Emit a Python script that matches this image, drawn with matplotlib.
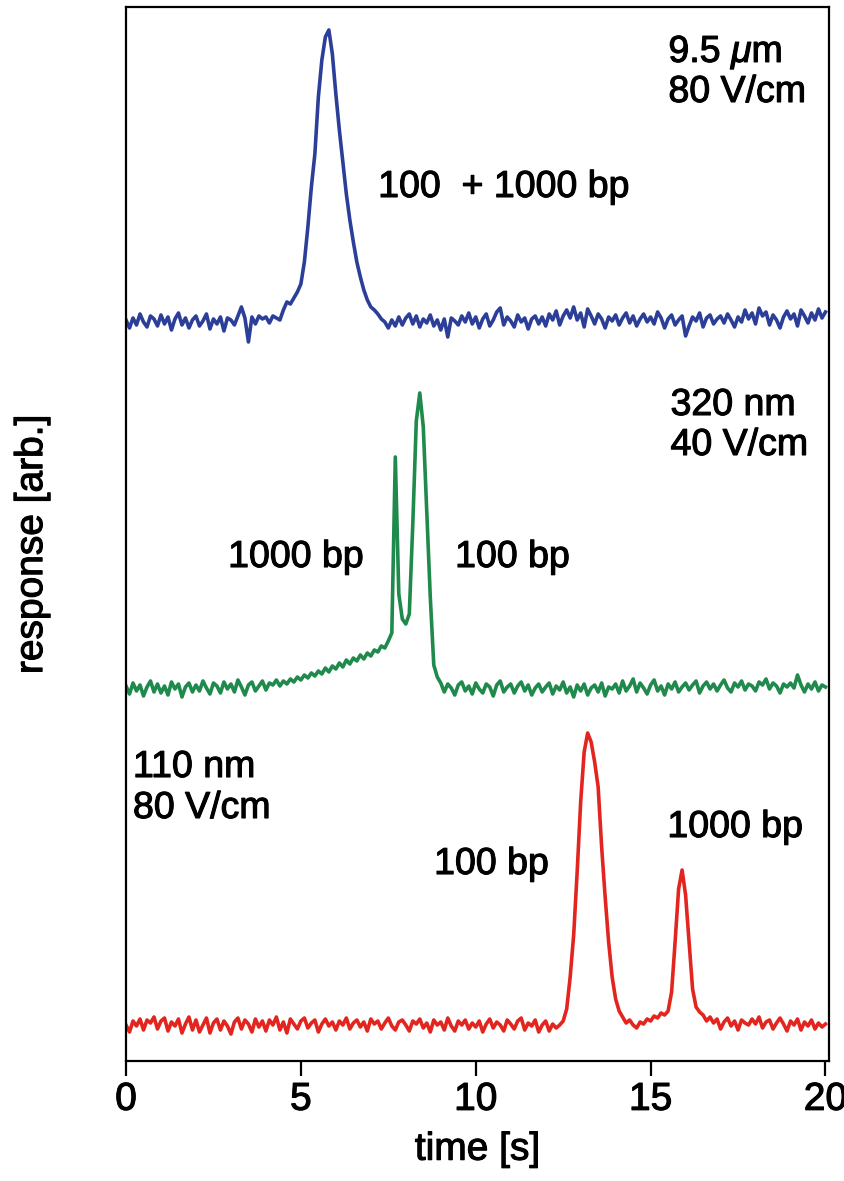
import numpy as np
import matplotlib
matplotlib.use("Agg")
import matplotlib.pyplot as plt
import matplotlib.patheffects as pe

plt.rcParams['font.family'] = ['Liberation Sans', 'DejaVu Sans']
plt.rcParams['mathtext.fontset'] = 'custom'
plt.rcParams['mathtext.rm'] = 'Liberation Sans'
plt.rcParams['mathtext.it'] = 'Liberation Sans:italic'

# sampling grid, 0.1 s steps from 0 to 20 s
time = np.round(np.arange(201) * 0.1, 1)

# detector response (arb.), baseline removed
resp_9um = [
    2, -6, 4, -3, 8, 0, -5, 6, 3, -4,
    7, -2, 5, -8, 3, 9, -3, 4, -6, 2,
    6, -4, 1, 8, -7, 3, -2, 5, -9, 4,
    2, -3, 6, 15, 4, -20, 5, -2, 6, 3,
    5, -1, 6, 4, 2, 12, 20, 18, 24, 30,
    38, 60, 95, 135, 168, 225, 262, 285, 292, 268,
    228, 192, 160, 128, 102, 80, 60, 45, 32, 22,
    15, 12, 8, 3, 0, -6, 2, -4, 5, -3,
    4, 8, -2, 6, -5, 3, -1, 7, -4, 2,
    -8, 3, -15, 4, 1, -3, 6, 0, 9, -2,
    5, -6, 3, 8, -4, 2, 10, 14, -3, 5,
    1, -5, 7, 0, 4, -7, 3, 6, -2, 5,
    -4, 8, 2, 11, -3, 6, 12, 4, 15, 2,
    9, -5, 13, 6, -2, 8, 3, -6, 5, 1,
    7, -3, 4, 9, -1, 6, -4, 3, 8, 0,
    5, -2, 10, 4, -6, 3, 7, -3, 2, 6,
    -14, -4, 5, 1, 9, -5, 4, 7, -2, 3,
    6, -1, 8, 2, -5, 5, 0, 12, 3, 9,
    -2, 14, 6, 10, -3, 7, 2, -6, 5, 11,
    3, 8, -4, 12, 6, -1, 9, 2, 13, 4,
    10,
]

resp_320nm = [
    3, -5, 6, -2, 4, -7, 2, 8, -3, 5,
    -4, 3, -6, 7, 0, 5, -8, 2, 6, -3,
    4, -2, 8, 1, -5, 6, 3, -4, 7, 0,
    5, -3, 9, 2, -6, 4, 7, -2, 3, 8,
    -1, 6, 4, 9, 3, 8, 5, 10, 7, 12,
    9, 14, 11, 16, 13, 18, 15, 21, 17, 23,
    20, 26, 22, 29, 25, 31, 28, 34, 30, 36,
    33, 39, 37, 43, 41, 48, 56, 232, 95, 70,
    65, 75, 165, 268, 296, 262, 178, 92, 24, 12,
    6, -3, 5, 1, -6, 4, 7, -2, 3, -5,
    6, 0, -4, 5, 2, -7, 4, 8, -3, 2,
    5, -4, 3, 7, -2, 4, -6, 1, 5, -3,
    2, 6, -5, 3, -1, 7, -4, 2, -8, 4,
    -2, 5, -6, 1, 4, -3, 6, -7, 2, 0,
    5, -4, 8, -2, 3, 10, -3, 6, 1, -5,
    4, 9, -2, 3, -6, 5, 0, 7, -3, 2,
    6, -1, 4, 8, -4, 3, 7, 0, 5, -2,
    4, 9, 1, -3, 6, 2, 8, -1, 5, 3,
    -2, 7, 4, 10, 0, 6, 3, -4, 5, 2,
    6, 1, 14, 4, -3, 5, 0, 7, -2, 4,
    2,
]

resp_110nm = [
    2, -5, 6, 1, 8, -3, 7, 4, 10, -2,
    6, 9, -4, 5, 1, 8, -6, 3, 10, -3,
    7, -5, 2, 9, -6, 4, 8, -3, 6, 1,
    -7, 5, 9, -2, 7, 3, -5, 8, 0, 6,
    -4, 7, 2, 10, -3, 5, -6, 8, 3, -2,
    6, 9, -1, 4, 7, -5, 3, 8, 1, 5,
    -3, 6, 2, 9, -2, 4, 7, 0, 5, -4,
    8, 3, 6, -2, 4, 9, 1, -3, 5, 7,
    2, -4, 6, 3, 8, -1, 4, -5, 7, 2,
    5, -3, 9, 1, -4, 6, 2, 7, -2, 4,
    0, 6, -5, 3, 8, -1, 5, 2, -4, 7,
    3, -2, 6, 9, -3, 4, 1, 7, -5, 2,
    6, -4, 3, -1, 2, 6, 18, 50, 92, 155,
    225, 275, 294, 285, 265, 240, 180, 130, 85, 50,
    28, 16, 10, 4, 7, 2, -1, 5, 3, 8,
    6, 11, 9, 14, 12, 16, 35, 85, 138, 157,
    132, 85, 38, 20, 15, 12, 6, 10, 4, 8,
    -2, 5, 9, 1, 6, -3, 7, 4, 2, 8,
    3, 10, -1, 5, 7, -2, 4, 9, 3, -4,
    6, 2, 8, -3, 5, 1, 7, -2, 4, 0,
    3,
]

# vertical offsets used to stack the three runs
offsets = [739, 372, 34]
colors = ['#2c3f98', '#1f8a4c', '#e2261f']

fig = plt.figure(figsize=(8.44, 11.81), dpi=100)
ax = fig.add_axes([0.1493, 0.1016, 0.8329, 0.8925])

for vals, off, c in zip([resp_9um, resp_320nm, resp_110nm], offsets, colors):
    ax.plot(time, np.array(vals) + off, color=c, lw=2.6, solid_joinstyle='round')

ax.set_xlim(0, 20.1)
ax.set_ylim(0, 1054)
ax.set_xticks([0, 5, 10, 15, 20])
ax.set_yticks([])
ax.tick_params(axis='x', direction='out', length=11, width=1.6, pad=4,
               labelsize=28)
for s in ax.spines.values():
    s.set_linewidth(1.6)

# slightly heavier strokes on all text
thick = [pe.withStroke(linewidth=0.8, foreground='black')]

ax.set_xlabel('time [s]', fontsize=28, labelpad=10, path_effects=thick)
ax.set_ylabel('response [arb.]', fontsize=28, path_effects=thick)
ax.yaxis.set_label_coords(-0.108, 0.49)
for lab in ax.get_xticklabels():
    lab.set_path_effects(thick)

fs = 27
labels = [
    (15.51, 999, r'9.5 $\mu$m'),
    (15.51, 959, '80 V/cm'),
    (7.21, 864, '100  + 1000 bp'),
    (15.57, 646, '320 nm'),
    (15.57, 606, '40 V/cm'),
    (2.92, 494, '1000 bp'),
    (9.41, 494, '100 bp'),
    (0.2, 284, '110 nm'),
    (0.2, 243, '80 V/cm'),
    (8.81, 187, '100 bp'),
    (15.48, 224, '1000 bp'),
]
for x, y, s in labels:
    ax.text(x, y, s, fontsize=fs, ha='left', va='baseline', path_effects=thick)

fig.savefig('out.png', dpi=100)
